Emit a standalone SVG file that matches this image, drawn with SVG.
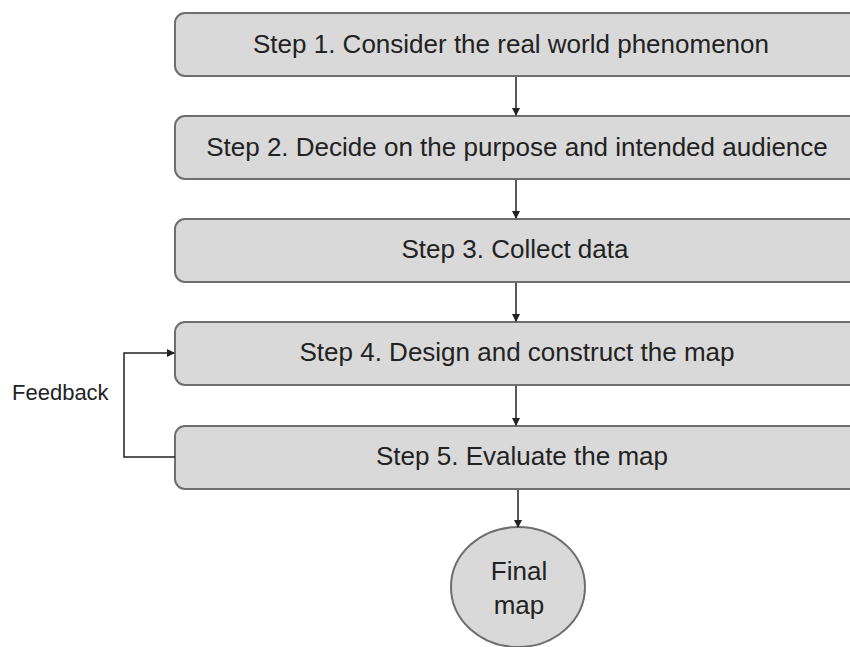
<svg xmlns="http://www.w3.org/2000/svg" width="850" height="647" viewBox="0 0 850 647">
<defs>
<marker id="ah" markerWidth="8" markerHeight="8" refX="7" refY="4" orient="auto" markerUnits="userSpaceOnUse"><path d="M0,0 L8,4 L0,8 z" fill="#222"/></marker>
<style>
.box{fill:#d9d9d9;stroke:#6e6e6e;stroke-width:2}
.t{font-family:"Liberation Sans",Arial,sans-serif;font-size:26px;fill:#222;text-anchor:middle}
.c{stroke:#222;stroke-width:1.5;fill:none}
</style>
</defs>
<rect width="850" height="647" fill="#fff"/>
<g id="step1"><rect class="box" x="175" y="13" width="690" height="63" rx="10"/><text class="t" x="511" y="53">Step 1. Consider the real world phenomenon</text></g>
<g id="step2"><rect class="box" x="175" y="116" width="690" height="63" rx="10"/><text class="t" x="517" y="156">Step 2. Decide on the purpose and intended audience</text></g>
<g id="step3"><rect class="box" x="175" y="219" width="690" height="63" rx="10"/><text class="t" x="515" y="258">Step 3. Collect data</text></g>
<g id="step4"><rect class="box" x="175" y="322" width="690" height="63" rx="10"/><text class="t" x="517" y="361">Step 4. Design and construct the map</text></g>
<g id="step5"><rect class="box" x="175" y="426" width="690" height="63" rx="10"/><text class="t" x="522" y="465">Step 5. Evaluate the map</text></g>
<g id="final"><ellipse cx="518" cy="587" rx="67" ry="60" fill="#d9d9d9" stroke="#6e6e6e" stroke-width="2"/><text class="t" x="519" y="580">Final</text><text class="t" x="519" y="614">map</text></g>
<g id="connectors">
<line class="c" x1="516" y1="77" x2="516" y2="115" marker-end="url(#ah)"/>
<line class="c" x1="516" y1="180" x2="516" y2="218" marker-end="url(#ah)"/>
<line class="c" x1="516" y1="283" x2="516" y2="321" marker-end="url(#ah)"/>
<line class="c" x1="516" y1="386" x2="516" y2="425" marker-end="url(#ah)"/>
<line class="c" x1="518" y1="490" x2="518" y2="527" marker-end="url(#ah)"/>
<polyline class="c" points="175,457 124,457 124,353 174,353" marker-end="url(#ah)"/>
</g>
<text font-family="Liberation Sans,Arial,sans-serif" font-size="22" fill="#222" x="12" y="400">Feedback</text>
</svg>
